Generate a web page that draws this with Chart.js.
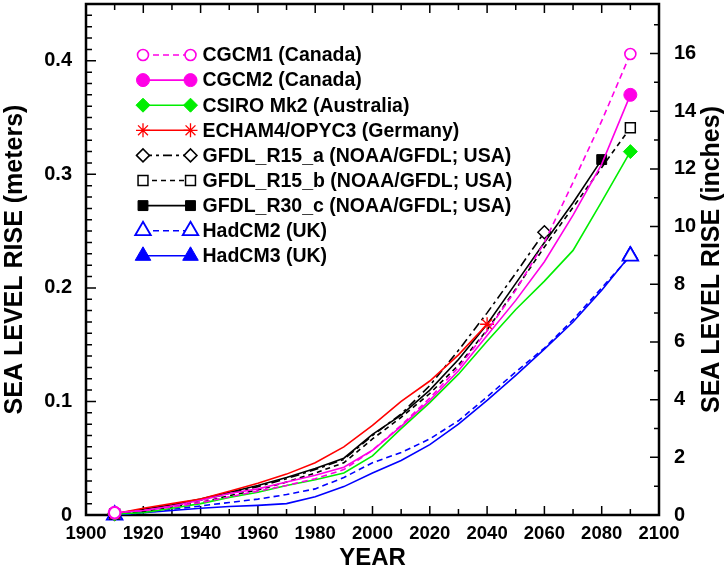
<!DOCTYPE html>
<html>
<head>
<meta charset="utf-8">
<script src="https://cdn.jsdelivr.net/npm/chart.js@4/dist/chart.umd.min.js"></script>
<style>
html,body{margin:0;padding:0;background:#fff;}
#wrap{width:727px;height:571px;}
</style>
</head>
<body>
<div id="wrap"><canvas id="c" width="727" height="571"></canvas></div>
<script>
// ---- data ----
const years = [1910,1920,1930,1940,1950,1960,1970,1980,1990,2000,2010,2020,2030,2040,2050,2060,2070,2080,2090];
const cgcm1  = [0.002,0.004,0.007,0.011,0.016,0.021,0.026,0.032,0.040,0.057,0.079,0.103,0.130,0.162,0.198,0.240,0.293,0.347,0.406];
const cgcm2  = [0.002,0.004,0.008,0.013,0.019,0.023,0.029,0.035,0.042,0.057,0.078,0.101,0.127,0.158,0.189,0.223,0.264,0.309,0.370];
const csiro  = [0.001,0.002,0.006,0.010,0.0155,0.020,0.026,0.031,0.037,0.052,0.076,0.099,0.124,0.153,0.181,0.206,0.233,0.276,0.320];
const echam4 = [0.001,0.006,0.010,0.014,0.021,0.028,0.036,0.046,0.060,0.079,0.100,0.118,0.141,0.168];
const r15a   = [0.001,0.004,0.008,0.013,0.019,0.025,0.032,0.040,0.049,0.070,0.089,0.114,0.145,0.178,0.213,0.249];
const r15b   = [0.001,0.003,0.007,0.011,0.017,0.022,0.029,0.037,0.046,0.067,0.086,0.107,0.132,0.163,0.199,0.236,0.271,0.306,0.341];
const r30c   = [0.001,0.005,0.009,0.014,0.020,0.026,0.033,0.041,0.050,0.071,0.088,0.110,0.137,0.168,0.204,0.240,0.275,0.313];
const hadcm2 = [0.000,0.002,0.005,0.008,0.011,0.014,0.018,0.023,0.033,0.046,0.055,0.067,0.083,0.104,0.126,0.147,0.172,0.200,0.228];
const hadcm3 = [0.000,0.002,0.004,0.006,0.0075,0.0085,0.010,0.016,0.025,0.037,0.048,0.062,0.080,0.101,0.123,0.146,0.170,0.198,0.229];

const seriesLabels = [
  'CGCM1 (Canada)','CGCM2 (Canada)','CSIRO Mk2 (Australia)','ECHAM4/OPYC3 (Germany)',
  'GFDL_R15_a (NOAA/GFDL; USA)','GFDL_R15_b (NOAA/GFDL; USA)','GFDL_R30_c (NOAA/GFDL; USA)',
  'HadCM2 (UK)','HadCM3 (UK)'
];
const xTickLabels = [1900,1920,1940,1960,1980,2000,2020,2040,2060,2080,2100];
const yTickMeters = [0,0.1,0.2,0.3,0.4];
const yTickInches = [0,2,4,6,8,10,12,14,16];

const FONT = "'Liberation Sans', Arial, Helvetica, sans-serif";
const MAG = '#ff00e6', GRN = '#00ee00', RED = '#ff0000', BLU = '#0000ff', BLK = '#000000';
const Y_MAX = 0.45;
const M_PER_IN = 0.0254;

function pts(vals){ return vals.map((v,i)=>({x:years[i], y:v})); }
function ds(label, vals, color, dash, style, radius, fill, bw){
  const n = vals.length;
  return {
    label, data: pts(vals), borderColor: color, borderWidth: 1.6, borderDash: dash,
    pointStyle: style, pointBackgroundColor: fill, pointBorderColor: color, pointBorderWidth: bw,
    legendRadius: radius,
    pointRadius: c => (c.dataIndex === 0 || c.dataIndex === n-1) ? radius : 0,
    fill: false, tension: 0, clip: false, yAxisID: 'y'
  };
}

const datasets = [
  ds(seriesLabels[0], cgcm1,  MAG, [6,4], 'circle', 5.5, '#ffffff', 1.6),
  ds(seriesLabels[1], cgcm2,  MAG, [],    'circle', 6.5, MAG, 1),
  ds(seriesLabels[2], csiro,  GRN, [],    'rectRot', 7, GRN, 1),
  ds(seriesLabels[3], echam4, RED, [],    'star', 7, RED, 1.3),
  ds(seriesLabels[4], r15a,   BLK, [9,4,3,4], 'rectRot', 6.5, '#ffffff', 1.5),
  ds(seriesLabels[5], r15b,   BLK, [5,4], 'rect', 7, '#ffffff', 1.5),
  ds(seriesLabels[6], r30c,   BLK, [],    'rect', 7, BLK, 1),
  ds(seriesLabels[7], hadcm2, BLU, [6,4], 'triangle', 9, '#ffffff', 1.8),
  ds(seriesLabels[8], hadcm3, BLU, [],    'triangle', 9, BLU, 1)
];

function noPad(s){ s.paddingTop = 0; s.paddingBottom = 0; s.paddingLeft = 0; s.paddingRight = 0; }

const framePlugin = {
  id: 'frameTicks',
  beforeDatasetsDraw(chart){
    const {ctx, chartArea: a, scales} = chart;
    ctx.save();
    ctx.strokeStyle = '#000';
    ctx.lineWidth = 1.5;
    ctx.beginPath();
    for (let yr = 1900; yr <= 2100; yr += 10){
      const px = scales.x.getPixelForValue(yr);
      const L = (yr % 20 === 0) ? 9 : 6;
      ctx.moveTo(px, a.bottom); ctx.lineTo(px, a.bottom - L);
      ctx.moveTo(px, a.top); ctx.lineTo(px, a.top + L);
    }
    for (let k = 0; k <= 44; k++){
      const v = k / 100;
      const py = scales.y.getPixelForValue(v);
      const L = (k % 10 === 0) ? 10 : 6;
      ctx.moveTo(a.left, py); ctx.lineTo(a.left + L, py);
    }
    for (let k = 0; k <= 17; k++){
      const py = scales.y2.getPixelForValue(k);
      const L = (k % 2 === 0) ? 9 : 5;
      ctx.moveTo(a.right, py); ctx.lineTo(a.right - L, py);
    }
    ctx.stroke();
    ctx.lineWidth = 2.5;
    ctx.strokeRect(a.left, a.top, a.right - a.left, a.bottom - a.top);
    ctx.restore();
  },
  afterDraw(chart){
    const {ctx, chartArea: a} = chart;
    const H = Chart.helpers;
    ctx.save();
    // legend
    const lx0 = a.left + 57, lx1 = a.left + 104.5, tx = a.left + 116.5;
    chart.data.datasets.forEach((d, i) => {
      const y = 55 + i * 25.1;
      ctx.save();
      ctx.strokeStyle = d.borderColor; ctx.lineWidth = d.borderWidth;
      ctx.setLineDash(d.borderDash || []);
      ctx.beginPath(); ctx.moveTo(lx0, y); ctx.lineTo(lx1, y); ctx.stroke();
      ctx.setLineDash([]);
      ctx.fillStyle = d.pointBackgroundColor; ctx.strokeStyle = d.pointBorderColor;
      ctx.lineWidth = d.pointBorderWidth;
      const o = {pointStyle: d.pointStyle, radius: d.legendRadius, rotation: 0, borderWidth: d.pointBorderWidth};
      H.drawPoint(ctx, o, lx0, y);
      H.drawPoint(ctx, o, lx1, y);
      ctx.restore();
      ctx.fillStyle = '#000';
      ctx.font = 'bold 19.5px ' + FONT;
      ctx.textAlign = 'left'; ctx.textBaseline = 'middle';
      ctx.fillText(d.label, tx, y + 1);
    });
    // right axis title (reads bottom-to-top like the left one)
    ctx.translate(712, (a.top + a.bottom) / 2);
    ctx.rotate(-Math.PI / 2);
    ctx.font = 'bold 25px ' + FONT;
    ctx.textAlign = 'center'; ctx.textBaseline = 'middle';
    ctx.fillStyle = '#000';
    ctx.fillText('SEA LEVEL RISE (inches)', 0, 0);
    ctx.restore();
  }
};

new Chart(document.getElementById('c'), {
  type: 'line',
  data: { datasets },
  options: {
    responsive: false,
    animation: false,
    events: [],
    layout: { autoPadding: false, padding: { top: 4, left: 0, right: 0, bottom: 0 } },
    plugins: { legend: { display: false }, tooltip: { enabled: false } },
    scales: {
      x: {
        type: 'linear', position: 'bottom', min: 1900, max: 2100,
        afterFit: s => { s.height = 56; noPad(s); },
        afterBuildTicks: s => { s.ticks = xTickLabels.map(v => ({value: v})); },
        grid: { display: false, drawTicks: false },
        border: { display: false },
        ticks: { padding: 8, color: '#000', font: { family: FONT, size: 18.5, weight: 'bold' },
                 callback: v => String(v), maxRotation: 0, autoSkip: false },
        title: { display: true, text: 'YEAR', color: '#000', padding: {top: 0, bottom: 0.5},
                 font: { family: FONT, size: 24, weight: 'bold', lineHeight: 1 } }
      },
      y: {
        type: 'linear', position: 'left', min: 0, max: Y_MAX,
        afterFit: s => { s.width = 86; noPad(s); },
        afterBuildTicks: s => { s.ticks = yTickMeters.map(v => ({value: v})); },
        grid: { display: false, drawTicks: false },
        border: { display: false },
        ticks: { padding: 14, color: '#000', font: { family: FONT, size: 20, weight: 'bold' },
                 callback: v => String(Number(v.toFixed(2))) },
        title: { display: true, text: 'SEA LEVEL RISE (meters)', color: '#000', padding: {top: 0, bottom: 0},
                 font: { family: FONT, size: 25, weight: 'bold' } }
      },
      y2: {
        type: 'linear', position: 'right', min: 0, max: Y_MAX / M_PER_IN,
        afterFit: s => { s.width = 68; noPad(s); },
        afterBuildTicks: s => { s.ticks = yTickInches.map(v => ({value: v})); },
        grid: { display: false, drawTicks: false },
        border: { display: false },
        ticks: { padding: 15, color: '#000', font: { family: FONT, size: 20, weight: 'bold' },
                 callback: v => String(v) }
      }
    }
  },
  plugins: [framePlugin]
});
</script>
</body>
</html>
